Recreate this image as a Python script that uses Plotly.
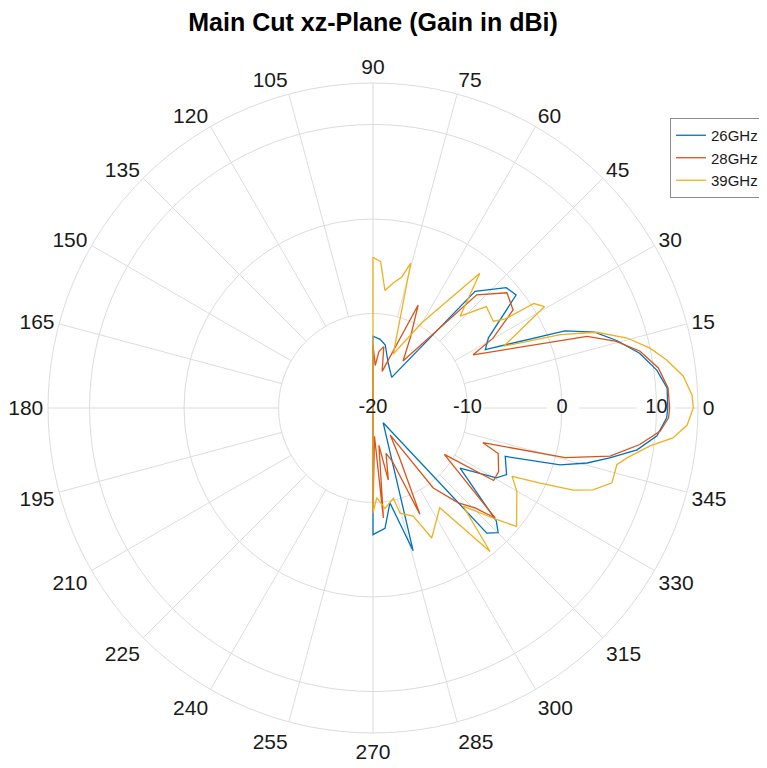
import plotly.graph_objects as go

# ---------------- data ----------------
title_text = "Main Cut xz-Plane (Gain in dBi)"
angle_ticks = list(range(0, 360, 15))
radial_ticks = [-20, -10, 0, 10]
r_min, r_max = -20, 14.4

series_names = ["26GHz", "28GHz", "39GHz"]
series_colors = ["#0072BD", "#D95319", "#EDB120"]

# angles in degrees (-90..90), gains in dBi; back half clipped to -20 (centre)
theta_26 = [180, -90, -84.3, -79.9, -74.3, -55.5, -47.7, -44.9, -42.5, -34.6, -29.5, -26.5,
            -20.1, -16.9, -14.4, -11.9, -9.0, -5.6, -1.9, 0, 3.9, 7.6, 11.6, 15.4, 18.9,
            21.9, 27.5, 31.3, 38.3, 42.1, 48.8, 58.6, 71.2, 79, 84, 90, 180]
gain_26 = [-20, -6.6, -7.2, -9.8, -4.3, -18.1, -2.1, -1.3, -2.3, -8.8, -5.0, -4.2,
           -5.1, 0.7, 3.4, 5.6, 8.3, 10.2, 11.1, 11.2, 11.2, 10.3, 8.8, 6.8, 4.8,
           1.9, -6.6, -5.7, -0.7, -1.0, -3.6, -16.2, -15.0, -13.2, -12.7, -12.4, -20]

theta_28 = [180, -90, -87, -84.6, -81, -78, -74, -70, -66.2, -62, -57.5, -53, -48, -44.4,
            -42, -33, -31, -26.8, -20, -17.5, -14.5, -11.5, -7.8, -4.6, -1.9, 0, 3.9, 8,
            12, 15.3, 18.5, 28, 30.2, 35, 40.7, 47.5, 57.4, 62, 66.3, 72, 76, 80, 84, 87,
            90, 180]
gain_28 = [-20, -9.0, -17, -8.3, -16, -12.2, -15, -14, -7.7, -14, -16.6, -9.4, -6.5, -4.9,
           -2.6, -11.0, -5.1, -5.1, -5.9, -7.8, 1.0, 5.6, 8.5, 10.5, 11.3, 11.4, 11.3, 10.5,
           8.9, 6.7, 3.9, -8.0, -5.3, -1.9, -1.3, -3.75, -14.1, -11.6, -8.1, -14.5, -16,
           -13.4, -14, -15.5, -13.3, -20]

theta_39 = [180, -90, -87.6, -83.2, -77.3, -75.6, -69.6, -65.7, -56.2, -50.8, -47.4, -42.1,
            -39.5, -30.1, -26.2, -24.2, -22.3, -20.4, -17.4, -13.1, -11.1, -7.8, -5.7,
            -3.1, 0, 2.3, 5.9, 9.3, 12.2, 15.4, 18.7, 21.4, 25.3, 30.6, 33, 34, 35.8,
            41.8, 46.5, 51.6, 60.2, 69.4, 75.4, 77.6, 80.8, 84.2, 87, 90, 180]
gain_39 = [-20, -8.9, -10.5, -9.3, -10.2, -8.5, -7.8, -4.9, -7.3, -0.4, -5.9, -2.4,
           -0.3, -2.4, -3.6, -0.6, 2.9, 4.85, 6.5, 6.5, 7.4, 9.6, 11.9,
           13.3, 13.9, 13.8, 13.0, 11.5, 10.0, 7.9, 5.0, 1.3, -4.7, 1.1, 0.3, -3.2, -4.3,
           -3.9, -6.6, -1.8, -9.6, -13.9, -4.15, -5.8, -6.6, -7.5, -4.5, -4.05, -20]

series_theta = [theta_26, theta_28, theta_39]
series_gain = [gain_26, gain_28, gain_39]

# ---------------- figure ----------------
FONT = "Liberation Sans, Arial, Helvetica, sans-serif"
GRID = "#dcdcdc"
TXT = "#1a1a1a"

fig = go.Figure()

# spokes (start at the -10 ring, like the reference), with gaps around radial labels at 0 deg
spoke_r, spoke_t = [], []
for a in angle_ticks:
    if a == 0:
        segs = [(-8.4, -1.6), (1.8, 7.9), (12.0, r_max)]
    else:
        segs = [(-10, r_max)]
    for s0, s1 in segs:
        spoke_r += [s0, s1, None]
        spoke_t += [a, a, None]
fig.add_trace(go.Scatterpolar(r=spoke_r, theta=spoke_t, mode="lines",
                              line=dict(color=GRID, width=1), hoverinfo="skip",
                              showlegend=False))

for name, col, th, g in zip(series_names, series_colors, series_theta, series_gain):
    fig.add_trace(go.Scatterpolar(r=g, theta=th, mode="lines", name=name,
                                  line=dict(color=col, width=1.3)))

# radial tick labels along the 0-degree line
fig.add_trace(go.Scatterpolar(r=radial_ticks, theta=[0] * len(radial_ticks), mode="text",
                              text=[str(v) for v in radial_ticks],
                              textposition="middle center",
                              textfont=dict(size=20, color=TXT, family=FONT),
                              hoverinfo="skip", showlegend=False))

# the page body adds an 8px offset; layout coordinates below are window pixels minus 8
OFF = 8
W, H = 767 - OFF, 768 - OFF
cx, cy, R = 373 - OFF, 408 - OFF, 325
fig.update_layout(
    width=W, height=H,
    margin=dict(l=0, r=0, t=0, b=0),
    paper_bgcolor="white",
    font=dict(family=FONT, color=TXT),
    title=dict(text="<b>" + title_text + "</b>", x=cx / W, xanchor="center",
               y=1 - (22 - OFF) / H, yanchor="middle",
               font=dict(size=25, family=FONT, color="#000000")),
    polar=dict(
        domain=dict(x=[(cx - R) / W, (cx + R) / W], y=[1 - (cy + R) / H, 1 - (cy - R) / H]),
        bgcolor="white",
        angularaxis=dict(rotation=0, direction="counterclockwise",
                         tickmode="array", tickvals=angle_ticks,
                         ticktext=[str(a) for a in angle_ticks],
                         tickfont=dict(size=21, color=TXT, family=FONT),
                         showgrid=False, showline=True, linecolor=GRID, linewidth=1,
                         ticks=""),
        radialaxis=dict(range=[r_min, r_max], tickmode="array", tickvals=[-10, 0, 10],
                        showticklabels=False, ticks="", showline=False,
                        gridcolor=GRID, gridwidth=1, angle=0),
    ),
    legend=dict(x=(764 - OFF) / W, xanchor="right", y=1 - (118 - OFF) / H, yanchor="top",
                bgcolor="white", bordercolor="#8c8c8c", borderwidth=1,
                font=dict(size=15, family=FONT, color=TXT),
                tracegroupgap=0),
)

fig.write_html("out.html")
